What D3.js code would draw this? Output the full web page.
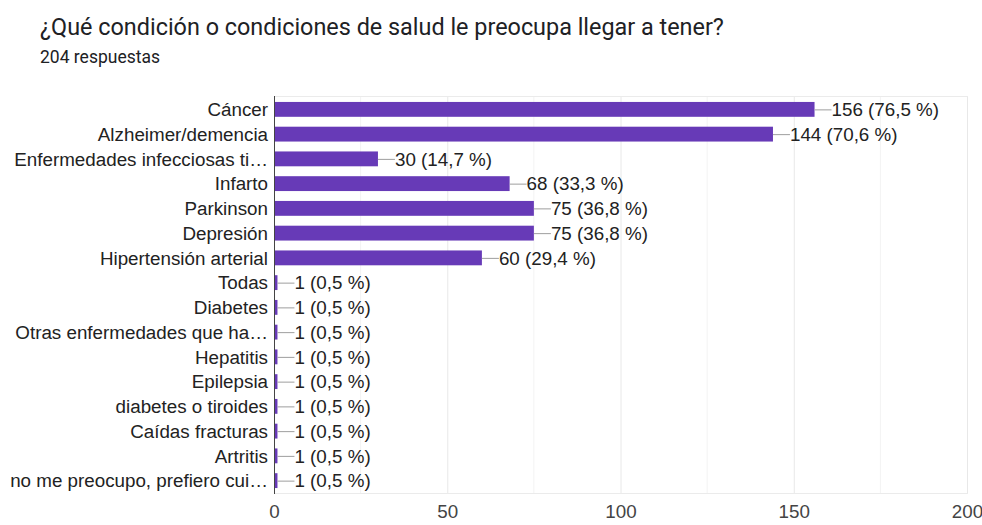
<!DOCTYPE html>
<html><head><meta charset="utf-8">
<script src="https://cdn.jsdelivr.net/npm/d3@7"></script>
<style>body{margin:0;background:#fff}svg{display:block}</style>
</head><body><svg id="c" width="982" height="525"></svg>
<script>
const categories = ["Cáncer","Alzheimer/demencia","Enfermedades infecciosas ti…","Infarto","Parkinson","Depresión","Hipertensión arterial","Todas","Diabetes","Otras enfermedades que ha…","Hepatitis","Epilepsia","diabetes o tiroides","Caídas fracturas","Artritis","no me preocupo, prefiero cui…"];
const values = [156,144,30,68,75,75,60,1,1,1,1,1,1,1,1,1];
const percents = ["76,5","70,6","14,7","33,3","36,8","36,8","29,4","0,5","0,5","0,5","0,5","0,5","0,5","0,5","0,5","0,5"];
const tickValues = [0,50,100,150,200];
const minorTicks = [25,75,125,175];
const title = "¿Qué condición o condiciones de salud le preocupa llegar a tener?";
const subtitle = "204 respuestas";

const svg = d3.select("#c");
const L = 274, R = 967, T = 97, B = 493;
const FONT = "Arial, 'Liberation Sans', sans-serif";
const FS = 18.8;
const x = d3.scaleLinear().domain([0,200]).range([L,R]);
const y = d3.scaleBand().domain(categories).range([T,B]).paddingInner(0.4).paddingOuter(0.2);

svg.append("text").attr("x",40).attr("y",35).attr("font-family","Roboto, sans-serif").attr("font-size",23.4).attr("fill","#202124").text(title);
svg.append("text").attr("x",40).attr("y",63).attr("font-family","Roboto, sans-serif").attr("font-size",17.5).attr("fill","#202124").text(subtitle);

// grid
svg.append("g").selectAll("line").data(minorTicks).join("line")
  .attr("x1",d=>x(d)).attr("x2",d=>x(d)).attr("y1",T-1).attr("y2",B)
  .attr("stroke","#f3f3f3").attr("stroke-width",1);
svg.append("g").selectAll("line").data(tickValues.slice(1)).join("line")
  .attr("x1",d=>x(d)+0.5).attr("x2",d=>x(d)+0.5).attr("y1",T-1).attr("y2",B)
  .attr("stroke","#e8e8e8").attr("stroke-width",1);
svg.append("line").attr("x1",L).attr("x2",R+1).attr("y1",T-0.5).attr("y2",T-0.5).attr("stroke","#ebebeb");
svg.append("line").attr("x1",L).attr("x2",R+1).attr("y1",B+0.5).attr("y2",B+0.5).attr("stroke","#ebebeb");

// bars
const rows = categories.map((c,i)=>({c, v:values[i], p:percents[i]}));
svg.append("g").selectAll("rect").data(rows).join("rect")
  .attr("x",x(0)).attr("y",d=>y(d.c)).attr("width",d=>Math.max(x(d.v)-x(0),2.5)).attr("height",y.bandwidth())
  .attr("fill","#673ab7");

// leader lines and labels
const lab = svg.append("g");
rows.forEach(d=>{
  const xe = Math.max(x(d.v), x(0)+2.5);
  const cy = y(d.c)+y.bandwidth()/2;
  lab.append("line").attr("x1",xe).attr("x2",xe+17).attr("y1",cy+0.5).attr("y2",cy+0.5).attr("stroke","#9e9e9e").attr("stroke-width",1);
  lab.append("text").attr("x",xe+17).attr("y",cy).attr("dy","0.36em")
    .attr("font-family",FONT).attr("font-size",FS).attr("fill","#222")
    .text(`${d.v} (${d.p} %)`);
});

// category labels
svg.append("g").selectAll("text").data(categories).join("text")
  .attr("x",L-6).attr("y",d=>y(d)+y.bandwidth()/2).attr("dy","0.36em").attr("text-anchor","end")
  .attr("font-family",FONT).attr("font-size",FS).attr("fill","#222")
  .text(d=>d);

// left axis line
svg.append("line").attr("x1",L+0.5).attr("x2",L+0.5).attr("y1",T-1).attr("y2",B+1).attr("stroke","#444").attr("stroke-width",1);

// x axis labels
const ax = svg.append("g").attr("transform",`translate(0,${B})`)
  .call(d3.axisBottom(x).tickValues(tickValues).tickSize(0).tickPadding(12));
ax.select(".domain").remove();
ax.selectAll("text").attr("font-family",FONT).attr("font-size",FS).attr("fill","#444");
</script></body></html>
